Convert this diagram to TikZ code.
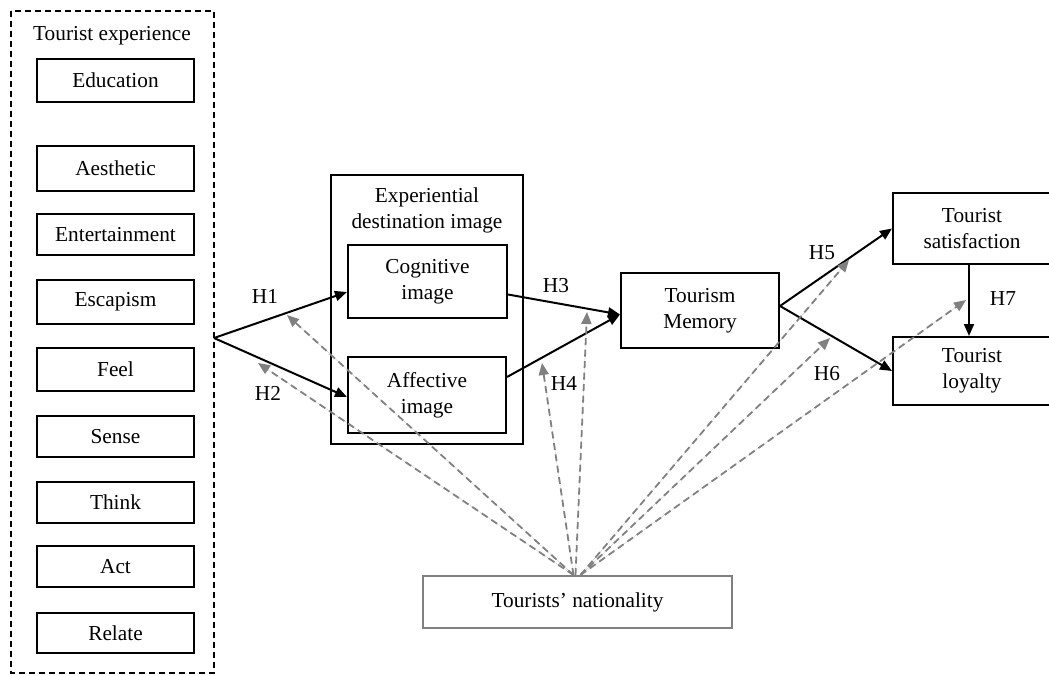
\documentclass[tikz,border=0pt]{standalone}
\usepackage{fontspec}
\setmainfont{Liberation Serif}
\usetikzlibrary{arrows.meta}
\definecolor{dgray}{RGB}{128,128,128}
\begin{document}
\begin{tikzpicture}[x=1pt,y=-1pt,
  box/.style={draw=black,line width=2pt,inner sep=0pt,align=center,font=\fontsize{21.3}{26}\selectfont},
  lbox/.style={box,minimum width=157,minimum height=42},
  txt/.style={inner sep=0pt,align=center,font=\fontsize{21.3}{26}\selectfont},
  arr/.style={line width=2pt,-{Triangle[length=12pt,width=10pt]}},
  darr/.style={draw=dgray,line width=1.8pt,dash pattern=on 7pt off 4.5pt,-{Triangle[length=12pt,width=10pt]},fill=dgray}]
\useasboundingbox (0,0) rectangle (1049,676);
% left dashed group
\draw[line width=2pt,dash pattern=on 6pt off 4pt] (11,11) rectangle (214,673);
\node[txt] (te) at (112,36) {Tourist experience};
\node[lbox,minimum height=43] (edu) at (115.5,80.5) {Education};
\node[lbox,minimum height=45] (aes) at (115.5,168.5) {Aesthetic};
\node[lbox,minimum height=41] (ent) at (115.5,234.5) {Entertainment};
\node[lbox,minimum height=44] (esc) at (115.5,302) {Escapism};
\node[lbox,minimum height=43] (feel) at (115.5,369.5) {Feel};
\node[lbox,minimum height=41] (sense) at (115.5,436.5) {Sense};
\node[lbox,minimum height=41] (think) at (115.5,502.5) {Think};
\node[lbox,minimum height=41] (act) at (115.5,566.5) {Act};
\node[lbox,minimum height=40] (rel) at (115.5,633) {Relate};
% experiential destination image
\node[box,minimum width=192,minimum height=269] (edi) at (427,309.5) {};
\node[txt] (edit) at (427,210) {Experiential\\destination image};
\node[box,minimum width=159,minimum height=73] (cog) at (427.5,281.5) {Cognitive\\image};
\node[box,minimum width=158,minimum height=76] (aff) at (427,395) {Affective\\image};
% memory
\node[box,minimum width=158,minimum height=75] (mem) at (700,310.5) {Tourism\\Memory};
% outcomes (right edges run off the page, as in the reference)
\node[box,minimum width=200,minimum height=71] (sat) at (993,228.5) {};
\node[txt] (satt) at (972,228.5) {Tourist\\satisfaction};
\node[box,minimum width=200,minimum height=68] (loy) at (993,371) {};
\node[txt] (loyt) at (972,371) {Tourist\\loyalty};
% moderator
\node[box,draw=dgray,minimum width=309,minimum height=52] (nat) at (577.5,602) {Tourists’ nationality};
% origin of H1/H2
\coordinate (o) at (214,338);
% solid arrows
\draw[arr] (o) -- ([yshift=-10.5pt]cog.west);
\draw[arr] (o) -- ([yshift=-2pt]aff.west);
\draw[arr] ([yshift=-13pt]cog.east) -- ([yshift=-4pt]mem.west);
\draw[arr] ([yshift=18pt]aff.east) -- ([yshift=-4pt]mem.west);
\draw[arr] ([yshift=4.5pt]mem.east) -- (sat.west);
\draw[arr] ([yshift=4.5pt]mem.east) -- (loy.west);
\draw[arr] (satt.south |- sat.south) ++(-3pt,0) -- ([xshift=-3pt]satt.south |- loy.north);
% hypothesis labels
\node[txt] (h1) at (265,296) {H1};
\node[txt] (h2) at (268,393) {H2};
\node[txt] (h3) at (556,286) {H3};
\node[txt] (h4) at (564,383) {H4};
\node[txt] (h5) at (822,253) {H5};
\node[txt] (h6) at (827,374) {H6};
\node[txt] (h7) at (1003,299) {H7};
% moderating targets
\coordinate (m1) at (287,315);
\coordinate (m2) at (258,363);
\coordinate (m3) at (542,363);
\coordinate (m4) at (587,312);
\coordinate (m5) at (849,260);
\coordinate (m6) at (830,338);
\coordinate (m7) at (966,300);
\draw[darr] ([xshift=-4pt]nat.north) -- (m1);
\draw[darr] ([xshift=-4pt]nat.north) -- (m2);
\draw[darr] ([xshift=-4pt]nat.north) -- (m3);
\draw[darr] ([xshift=-2pt]nat.north) -- (m4);
\draw[darr] ([xshift=3pt]nat.north) -- (m5);
\draw[darr] ([xshift=3pt]nat.north) -- (m6);
\draw[darr] ([xshift=3pt]nat.north) -- (m7);
\end{tikzpicture}
\end{document}
